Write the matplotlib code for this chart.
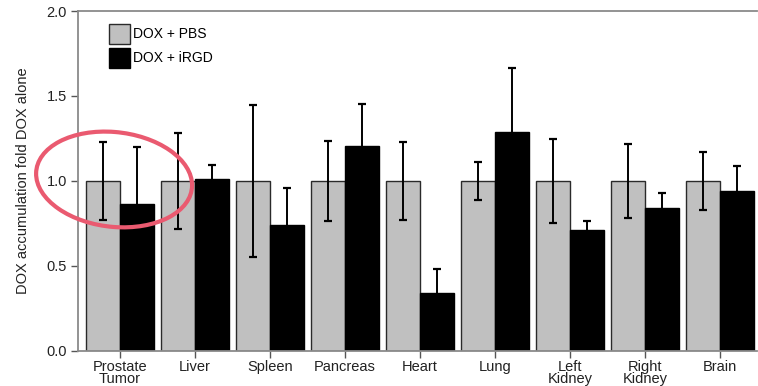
import matplotlib
matplotlib.use("Agg")
import matplotlib.pyplot as plt
import numpy as np
from matplotlib.patches import Ellipse, Patch

categories = ["Prostate\nTumor", "Liver", "Spleen", "Pancreas", "Heart",
              "Lung", "Left\nKidney", "Right\nKidney", "Brain"]
pbs_values = [1.0, 1.0, 1.0, 1.0, 1.0, 1.0, 1.0, 1.0, 1.0]
pbs_errors = [0.23, 0.28, 0.445, 0.233, 0.23, 0.11, 0.247, 0.22, 0.168]
irgd_values = [0.863, 1.012, 0.743, 1.208, 0.339, 1.288, 0.712, 0.839, 0.943]
irgd_errors = [0.337, 0.085, 0.218, 0.247, 0.143, 0.377, 0.053, 0.092, 0.147]
series_labels = ["DOX + PBS", "DOX + iRGD"]
y_ticks = [0.0, 0.5, 1.0, 1.5, 2.0]
y_label = "DOX accumulation fold DOX alone"

plt.rcParams['font.family'] = ['Liberation Sans', 'DejaVu Sans']

fig = plt.figure(figsize=(7.58, 3.86), dpi=100)
ax = fig.add_axes([0.103, 0.0907, 0.896, 0.8808])

x = np.arange(len(categories))
w = 0.45
ax.bar(x, pbs_values, width=-w, align='edge', color='#c0c0c0',
       edgecolor='#2a2a2a', linewidth=1.0, zorder=2)
ax.bar(x, irgd_values, width=w, align='edge', color='black',
       edgecolor='black', linewidth=1.0, zorder=2)
ax.errorbar(x - w / 2, pbs_values, yerr=pbs_errors, fmt='none',
            ecolor='black', elinewidth=1.4, capsize=3, capthick=1.6, zorder=3)
ax.errorbar(x + w / 2, irgd_values, yerr=irgd_errors, fmt='none',
            ecolor='black', elinewidth=1.4, capsize=3, capthick=1.6, zorder=1.5)

ax.set_xlim(-0.56, 8.493)
ax.set_ylim(0, 2.0)
ax.set_yticks(y_ticks)
ax.set_yticklabels([f"{v:.1f}" for v in y_ticks], fontsize=10.5, color='#222222')
ax.set_xticks(x)
ax.set_xticklabels(categories, fontsize=10.5, color='#222222', linespacing=0.85)
ax.tick_params(axis='y', length=5, width=1, color='#555555', pad=3)
ax.tick_params(axis='x', length=5, width=1, color='#555555', pad=1.5)
ax.set_ylabel(y_label, fontsize=10.5, color='#222222', labelpad=12)

for s in ['left', 'bottom', 'top']:
    ax.spines[s].set_color('#8a8a8a')
    ax.spines[s].set_linewidth(1.3)
ax.spines['right'].set_visible(False)

handles = [Patch(facecolor='#c0c0c0', edgecolor='#2a2a2a', linewidth=1.0),
           Patch(facecolor='black', edgecolor='black')]
ax.legend(handles, series_labels, loc='upper left', bbox_to_anchor=(0.0457, 0.962),
          frameon=False, fontsize=10, handlelength=1.5, handleheight=1.84,
          handletextpad=0.2, labelspacing=0.28, borderaxespad=0, borderpad=0)

ell = Ellipse((-0.08, 1.009), width=2.08, height=0.559, angle=-2,
              fill=False, edgecolor='#ea5a70', linewidth=3, clip_on=False, zorder=5)
ax.add_patch(ell)

fig.savefig("out.png", dpi=100)
